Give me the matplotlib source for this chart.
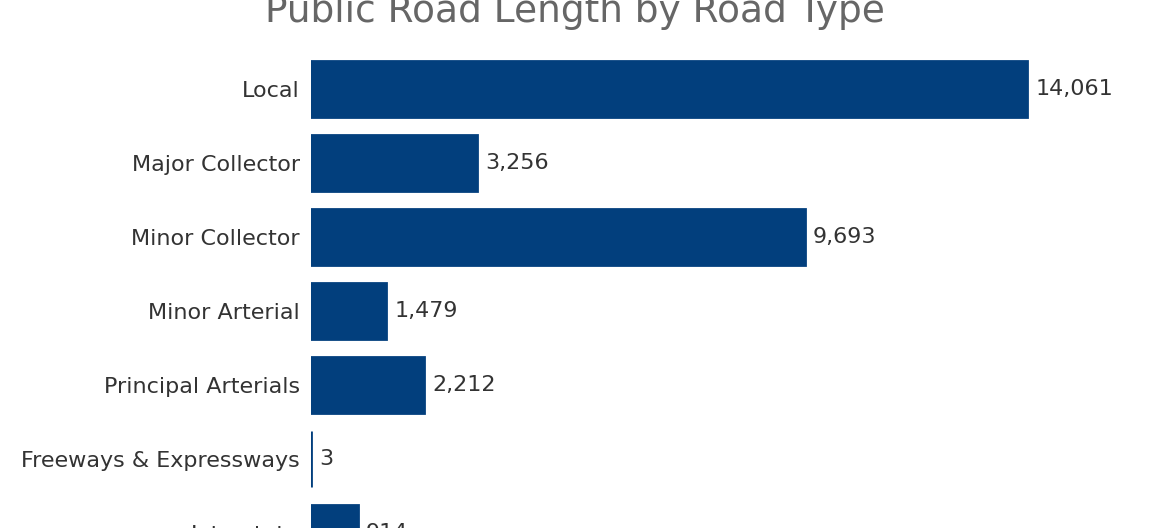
import matplotlib
matplotlib.use("Agg")
import matplotlib.pyplot as plt

# data
road_types = ['Local', 'Major Collector', 'Minor Collector', 'Minor Arterial',
              'Principal Arterials', 'Freeways & Expressways', 'Interstate']
lengths = [14061, 3256, 9693, 1479, 2212, 3, 914]

bar_color = '#023F7D'
plt.rcParams['font.family'] = ['DejaVu Sans']

fig = plt.figure(figsize=(11.7, 5.28), dpi=100)
ax = fig.add_axes([311 / 1170, 1 - 570 / 528, 814.7 / 1170, 518 / 528])

pos = list(range(len(road_types)))
ax.barh(pos, lengths, height=0.757, color=bar_color, edgecolor=bar_color, linewidth=2)
ax.set_ylim(len(road_types) - 0.5, -0.5)
ax.set_xlim(0, 16000)

for p, v in zip(pos, lengths):
    ax.annotate(f'{v:,}', (v, p), xytext=(6, 0), textcoords='offset points',
                va='center', ha='left', fontsize=16, color='#333333')

ax.set_yticks(pos)
ax.set_yticklabels(road_types, fontsize=16, color='#333333')
ax.tick_params(axis='y', length=0, pad=8)
ax.set_xticks([])
for s in ax.spines.values():
    s.set_visible(False)

fig.text(0.491, 1 - 22 / 528, 'Public Road Length by Road Type', ha='center',
         va='baseline', fontsize=27, color='#666666')

fig.savefig('out.png', dpi=100)
